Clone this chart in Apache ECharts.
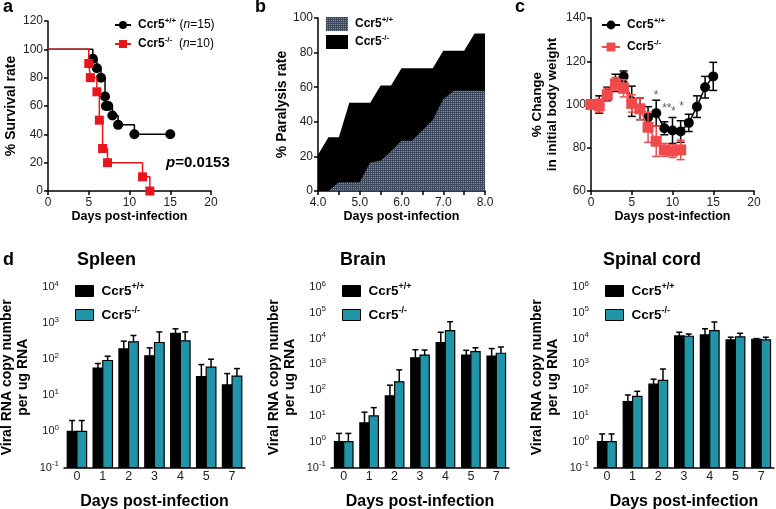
<!DOCTYPE html>
<html><head><meta charset="utf-8">
<script src="https://cdn.jsdelivr.net/npm/echarts@6/dist/echarts.min.js"></script>
<style>html,body{margin:0;padding:0;background:#fff}#c{width:776px;height:509px}</style>
</head><body><div id="c"></div>
<script>
// ---- Panel a: survival (Kaplan-Meier) ----
const survDaysWT = [0, 5.5, 6.0, 6.5, 7.0, 7.1, 7.4, 7.9, 8.6, 10.6, 15];
const survWT     = [100, 93.3, 86.7, 80, 66.7, 60, 60, 53.3, 46.7, 40, 40];
const survDaysKO = [0, 5.0, 5.2, 6.0, 6.3, 6.7, 7.3, 11.6, 12.5];
const survKO     = [100, 90, 80, 70, 50, 30, 20, 10, 0];
// ---- Panel b: paralysis rate ----
const paraDays = [4.0, 4.25, 4.5, 4.75, 5.0, 5.25, 5.5, 5.75, 6.0, 6.25, 6.5, 6.75, 7.0, 7.25, 7.5, 7.75, 8.0];
const paraKO   = [21, 31, 31, 51, 51, 51, 61, 61, 71, 71, 71, 71, 81, 81, 81, 91, 91];
const paraWT   = [0, 0, 5, 5, 5, 16.5, 17.5, 23, 29, 29, 35, 41, 53, 58, 58, 58, 58];
// ---- Panel c: body weight ----
const wtDays = [0, 1, 2, 3, 4, 5, 6, 7, 8, 9, 10, 11, 12, 13, 14, 15];
const wtMean = [100, 100, 105, 110, 113, 101.5, 98, 94, 96, 89, 88, 87.5, 91.5, 99, 108, 113];
const wtSD   = [1, 4, 3, 4, 2.5, 7, 5, 5, 6, 3, 6, 5, 4, 5, 5, 6.5];
const koDays = [0, 1, 2, 3, 4, 5, 6, 7, 8, 9, 10, 11];
const koMean = [100, 99.5, 104.5, 109.5, 107.5, 100.5, 98, 89.5, 83, 79, 78.5, 79];
const koSD   = [1, 3, 3, 3, 4, 4, 5, 7, 7, 3, 3, 4.5];
const starX   = [8.0, 9.3, 10.1, 11.1];
const starY   = [104, 98, 96.5, 99];
const starTxt = ['*', '**', '*', '*'];
// ---- Panel d: viral RNA ----
const dayCats = ['0', '1', '2', '3', '4', '5', '7'];
const spleenWT   = [1, 57, 193, 124, 516, 33, 19.4];
const spleenWTUp = [2, 76, 316, 206, 694, 71, 40];
const spleenKO   = [1, 92, 302, 290, 323, 60, 34];
const spleenKOUp = [2, 121, 454, 570, 570, 100, 55];
const brainWT   = [1, 5.4, 60, 1800, 7000, 2300, 2100];
const brainWTUp = [2.1, 14, 156, 3700, 17600, 3500, 4100];
const brainKO   = [1, 10, 210, 2300, 20400, 3100, 2700];
const brainKOUp = [2.1, 21, 610, 3600, 45000, 4400, 4700];
const spinalWT   = [1, 36, 170, 12700, 13900, 8900, 9400];
const spinalWTUp = [2, 65, 266, 17600, 24000, 11300, 10000];
const spinalKO   = [1, 57, 240, 12300, 20400, 11700, 8900];
const spinalKOUp = [2, 90, 660, 15000, 44000, 16000, 11300];

const FF = 'Liberation Sans, Arial, Helvetica, sans-serif';
const TEAL = '#2195a8';
const RED_A = '#e8161b';
const RED_C = '#f04a4a';

// dotted pattern for panel b
const pc = document.createElement('canvas');
pc.width = 2; pc.height = 2;
const pctx = pc.getContext('2d');
pctx.fillStyle = '#3c485c'; pctx.fillRect(0, 0, 2, 2);
pctx.fillStyle = '#8192b0'; pctx.fillRect(1, 1, 1, 1);
const PATTERN = { image: pc, repeat: 'repeat' };

const axisLine = { lineStyle: { color: '#000', width: 1.5 } };
const axisTick = { length: 4, lineStyle: { color: '#000', width: 1.5 } };
const lab = { color: '#222', fontSize: 12, fontFamily: FF };
const nameStyle = (fs) => ({ color: '#000', fontSize: fs, fontWeight: 'bold', fontFamily: FF });

const supRich = {
  b: { fontSize: 12, fontWeight: 'bold', color: '#000', fontFamily: FF, padding: [0, 0, 0, 2] },
  s: { fontSize: 8, fontWeight: 'bold', color: '#000', fontFamily: FF, padding: [0, 0, 8, 0] },
  n: { fontSize: 12, fontWeight: 'normal', color: '#000', fontFamily: FF },
  ni: { fontSize: 12, fontWeight: 'normal', fontStyle: 'italic', color: '#000', fontFamily: FF }
};
const supRichD = {
  b: { fontSize: 13.5, fontWeight: 'bold', color: '#000', fontFamily: FF, padding: [0, 0, 0, 3] },
  s: { fontSize: 9, fontWeight: 'bold', color: '#000', fontFamily: FF, padding: [0, 0, 9, 0] }
};
const legendText = {
  aWT: '{b|Ccr5}{s|+/+} {n|(}{ni|n}{n|=15)}', aKO: '{b|Ccr5}{s|-/-}  {n|(}{ni|n}{n|=10)}',
  bWT: '{b|Ccr5}{s|+/+}', bKO: '{b|Ccr5}{s|-/-}',
  cWT: '{b|Ccr5}{s|+/+}', cKO: '{b|Ccr5}{s|-/-}',
  sWT: '{b|Ccr5}{s|+/+}', sKO: '{b|Ccr5}{s|-/-}',
  rWT: '{b|Ccr5}{s|+/+}', rKO: '{b|Ccr5}{s|-/-}',
  pWT: '{b|Ccr5}{s|+/+}', pKO: '{b|Ccr5}{s|-/-}'
};
const fmt = (n) => legendText[n];

const logLabel = {
  color: '#222', fontFamily: FF, margin: 5,
  formatter: (v) => '{m|10}{e|' + Math.round(Math.log10(v)) + '}',
  rich: { m: { fontSize: 11, color: '#222', fontFamily: FF }, e: { fontSize: 8, color: '#222', fontFamily: FF, padding: [0, 0, 7, 0] } }
};

function kmData(ts, ss) {
  return ts.map((t, i) => i === 0 ? { value: [t, ss[i]], symbol: 'none' } : [t, ss[i]]);
}
function zip(xs, ys) { return xs.map((x, i) => [x, ys[i]]); }

function errRender(color) {
  return function (params, api) {
    const x = api.value(0), m = api.value(1), sd = api.value(2);
    const hi = api.coord([x, m + sd]), lo = api.coord([x, m - sd]);
    const c = 4;
    const st = { stroke: color, lineWidth: 1.5 };
    return { type: 'group', children: [
      { type: 'line', shape: { x1: hi[0], y1: hi[1], x2: lo[0], y2: lo[1] }, style: st },
      { type: 'line', shape: { x1: hi[0] - c, y1: hi[1], x2: hi[0] + c, y2: hi[1] }, style: st },
      { type: 'line', shape: { x1: lo[0] - c, y1: lo[1], x2: lo[0] + c, y2: lo[1] }, style: st }
    ] };
  };
}

function barRender(side, frac) {
  return function (params, api) {
    const i = api.value(0), v = api.value(1), up = api.value(2);
    const top = api.coord([i, v]);
    const base = api.coord([i, 0.1]);
    const band = api.size([1, 1], [i, v])[0];
    const w = band * frac;
    const x0 = side < 0 ? top[0] - w : top[0];
    const upP = api.coord([i, up]);
    const cx = x0 + w / 2;
    const st = { stroke: '#000', lineWidth: 1.5 };
    return { type: 'group', children: [
      { type: 'line', shape: { x1: cx, y1: top[1], x2: cx, y2: upP[1] }, style: st },
      { type: 'line', shape: { x1: cx - 3, y1: upP[1], x2: cx + 3, y2: upP[1] }, style: st },
      { type: 'rect', shape: { x: x0, y: top[1], width: w, height: base[1] - top[1] }, style: { fill: api.visual('color'), stroke: '#000', lineWidth: 1.2 } }
    ] };
  };
}
function barData(vals, ups) { return vals.map((v, i) => [i, v, ups[i]]); }

const grids = [
  { left: 48, top: 21, width: 163, height: 170 },
  { left: 318, top: 18, width: 167, height: 173 },
  { left: 591, top: 18, width: 163, height: 173 },
  { left: 64, top: 287, width: 181, height: 180.5 },
  { left: 331, top: 287, width: 178, height: 180.5 },
  { left: 594, top: 287, width: 180, height: 180.5 }
].map((g) => Object.assign({ outerBoundsMode: 'none', containLabel: false }, g));

const xName = () => ({ name: 'Days post-infection', nameLocation: 'middle', nameGap: 19, nameTextStyle: nameStyle(12.5) });
const xNameD = { name: 'Days post-infection', nameLocation: 'middle', nameGap: 26, nameTextStyle: nameStyle(16) };

const xAxes = [
  Object.assign({ gridIndex: 0, type: 'value', min: 0, max: 20, interval: 5, axisLine, axisTick, axisLabel: Object.assign({ margin: 6 }, lab), splitLine: { show: false } }, xName()),
  Object.assign({ gridIndex: 1, type: 'value', min: 4, max: 8, interval: 1, axisLine, axisTick, minorTick: { show: true, splitNumber: 2, length: 4, lineStyle: { color: '#000', width: 1.5 } }, axisLabel: Object.assign({ margin: 6, formatter: (v) => v.toFixed(1) }, lab), splitLine: { show: false } }, xName()),
  Object.assign({ gridIndex: 2, type: 'value', min: 0, max: 20, interval: 5, axisLine, axisTick, axisLabel: Object.assign({ margin: 6 }, lab), splitLine: { show: false } }, xName())
];
[3, 4, 5].forEach((g) => {
  xAxes.push(Object.assign({ gridIndex: g, type: 'category', data: dayCats, axisLine, axisTick: { alignWithLabel: true, length: 3, lineStyle: { color: '#000', width: 1.5 } }, axisLabel: Object.assign({ margin: 3 }, lab, { fontSize: 12.5 }) }, xNameD));
});

const yNameD = { name: 'Viral RNA copy number\nper ug RNA', nameLocation: 'middle', nameGap: 33, nameTextStyle: Object.assign(nameStyle(14), { lineHeight: 16 }) };
const yAxes = [
  { gridIndex: 0, type: 'value', min: 0, max: 120, interval: 20, axisLine, axisTick, axisLabel: Object.assign({ margin: 5 }, lab), splitLine: { show: false }, name: '% Survival rate', nameLocation: 'middle', nameGap: 30, nameTextStyle: nameStyle(14) },
  { gridIndex: 1, type: 'value', min: 0, max: 100, interval: 20, axisLine, axisTick, axisLabel: Object.assign({ margin: 5 }, lab), splitLine: { show: false }, name: '% Paralysis rate', nameLocation: 'middle', nameGap: 28, nameTextStyle: nameStyle(14) },
  { gridIndex: 2, type: 'value', min: 60, max: 140, interval: 20, axisLine, axisTick, axisLabel: Object.assign({ margin: 5 }, lab), splitLine: { show: false }, name: '% Change\nin initial body weight', nameLocation: 'middle', nameGap: 31, nameTextStyle: Object.assign(nameStyle(13.5), { lineHeight: 15 }) },
  Object.assign({ gridIndex: 3, type: 'log', logBase: 10, min: 0.1, max: 1e4, axisLine, axisTick, axisLabel: logLabel, splitLine: { show: false }, minorTick: { show: false } }, yNameD),
  Object.assign({ gridIndex: 4, type: 'log', logBase: 10, min: 0.1, max: 1e6, axisLine, axisTick, axisLabel: logLabel, splitLine: { show: false } }, yNameD),
  Object.assign({ gridIndex: 5, type: 'log', logBase: 10, min: 0.1, max: 1e6, axisLine, axisTick, axisLabel: logLabel, splitLine: { show: false } }, yNameD)
];

const series = [
  { name: 'aWT', type: 'line', xAxisIndex: 0, yAxisIndex: 0, step: 'end', data: kmData(survDaysWT, survWT), symbol: 'circle', symbolSize: 10, itemStyle: { color: '#000' }, lineStyle: { color: '#000', width: 1.5 }, z: 3 },
  { name: 'aKO', type: 'line', xAxisIndex: 0, yAxisIndex: 0, step: 'end', data: kmData(survDaysKO, survKO), symbol: 'rect', symbolSize: 9, itemStyle: { color: RED_A }, lineStyle: { color: RED_A, width: 1.5 }, z: 4 },
  { name: 'bKO', type: 'line', xAxisIndex: 1, yAxisIndex: 1, data: zip(paraDays, paraKO), symbol: 'none', itemStyle: { color: '#000' }, lineStyle: { width: 0 }, areaStyle: { color: '#000', opacity: 1 }, z: 2 },
  { name: 'bWT', type: 'line', xAxisIndex: 1, yAxisIndex: 1, data: zip(paraDays, paraWT), symbol: 'none', itemStyle: { color: PATTERN }, lineStyle: { width: 0 }, areaStyle: { color: PATTERN, opacity: 1 }, z: 3 },
  { name: 'cWTerr', type: 'custom', xAxisIndex: 2, yAxisIndex: 2, renderItem: errRender('#000'), data: wtDays.map((d, i) => [d, wtMean[i], wtSD[i]]), z: 2 },
  { name: 'cWT', type: 'line', xAxisIndex: 2, yAxisIndex: 2, data: zip(wtDays, wtMean), symbol: 'circle', symbolSize: 10, itemStyle: { color: '#000' }, lineStyle: { color: '#000', width: 1.5 }, z: 3 },
  { name: 'cKOerr', type: 'custom', xAxisIndex: 2, yAxisIndex: 2, renderItem: errRender(RED_C), data: koDays.map((d, i) => [d, koMean[i], koSD[i]]), z: 4 },
  { name: 'cKO', type: 'line', xAxisIndex: 2, yAxisIndex: 2, data: zip(koDays, koMean), symbol: 'rect', symbolSize: 11, itemStyle: { color: RED_C }, lineStyle: { color: RED_C, width: 1.5 }, z: 5 },
  { name: 'stars', type: 'scatter', xAxisIndex: 2, yAxisIndex: 2, data: starX.map((x, i) => [x, starY[i], starTxt[i]]), symbol: 'circle', symbolSize: 1, itemStyle: { color: 'rgba(0,0,0,0)' }, label: { show: true, position: 'inside', formatter: (p) => p.value[2], color: '#333', fontSize: 12, fontFamily: FF }, z: 6, silent: true },
  { name: 'sWT', type: 'custom', xAxisIndex: 3, yAxisIndex: 3, renderItem: barRender(-1, 0.375), data: barData(spleenWT, spleenWTUp), itemStyle: { color: '#000' } },
  { name: 'sKO', type: 'custom', xAxisIndex: 3, yAxisIndex: 3, renderItem: barRender(1, 0.375), data: barData(spleenKO, spleenKOUp), itemStyle: { color: TEAL } },
  { name: 'rWT', type: 'custom', xAxisIndex: 4, yAxisIndex: 4, renderItem: barRender(-1, 0.365), data: barData(brainWT, brainWTUp), itemStyle: { color: '#000' } },
  { name: 'rKO', type: 'custom', xAxisIndex: 4, yAxisIndex: 4, renderItem: barRender(1, 0.365), data: barData(brainKO, brainKOUp), itemStyle: { color: TEAL } },
  { name: 'pWT', type: 'custom', xAxisIndex: 5, yAxisIndex: 5, renderItem: barRender(-1, 0.365), data: barData(spinalWT, spinalWTUp), itemStyle: { color: '#000' } },
  { name: 'pKO', type: 'custom', xAxisIndex: 5, yAxisIndex: 5, renderItem: barRender(1, 0.365), data: barData(spinalKO, spinalKOUp), itemStyle: { color: TEAL } }
];

function mkLegend(names, left, top, iw, ih, gap, rich, items) {
  return { left, top, orient: 'vertical', itemWidth: iw, itemHeight: ih, itemGap: gap, padding: 0, selectedMode: false,
    data: items || names, formatter: fmt, textStyle: { rich, fontFamily: FF, fontWeight: 'bold', color: '#000' } };
}
const rectItem = (name, color) => ({ name, icon: 'rect', itemStyle: { color, borderColor: '#000', borderWidth: 1 } });

const legends = [
  mkLegend(['aWT', 'aKO'], 114, 17, 16, 10, 5, supRich),
  mkLegend(['bWT', 'bKO'], 326, 16, 22, 14, 3, supRich, [{ name: 'bWT', icon: 'rect', itemStyle: { color: PATTERN } }, { name: 'bKO', icon: 'rect', itemStyle: { color: '#000' } }]),
  mkLegend(['cWT', 'cKO'], 601, 17, 18, 11, 8, supRich),
  mkLegend(null, 75, 282, 18, 11, 8, supRichD, [rectItem('sWT', '#000'), rectItem('sKO', TEAL)]),
  mkLegend(null, 342, 282, 18, 11, 8, supRichD, [rectItem('rWT', '#000'), rectItem('rKO', TEAL)]),
  mkLegend(null, 605, 282, 18, 11, 8, supRichD, [rectItem('pWT', '#000'), rectItem('pKO', TEAL)])
];

const tStyle = { fontSize: 18, fontWeight: 'bold', color: '#000', fontFamily: FF };
const titles = [
  { text: 'a', left: 3, top: -2 }, { text: 'b', left: 255, top: -2 }, { text: 'c', left: 515, top: -2 },
  { text: 'd', left: 3, top: 251 }, { text: 'Spleen', left: 77, top: 251 }, { text: 'Brain', left: 340, top: 251 }, { text: 'Spinal cord', left: 603, top: 251 }
].map((t) => Object.assign({ padding: 0, textStyle: tStyle }, t));

const chart = echarts.init(document.getElementById('c'), null, { renderer: 'canvas' });
chart.setOption({
  animation: false,
  backgroundColor: '#fff',
  title: titles,
  legend: legends,
  grid: grids,
  xAxis: xAxes,
  yAxis: yAxes,
  series,
  graphic: [
    { type: 'text', left: 166, top: 155, style: { text: '{i|p}{t|=0.0153}', rich: { i: { fontSize: 15, fontWeight: 'bold', fontStyle: 'italic', fontFamily: FF, fill: '#000' }, t: { fontSize: 15, fontWeight: 'bold', fontFamily: FF, fill: '#000' } } } }
  ]
});
</script>
</body></html>
